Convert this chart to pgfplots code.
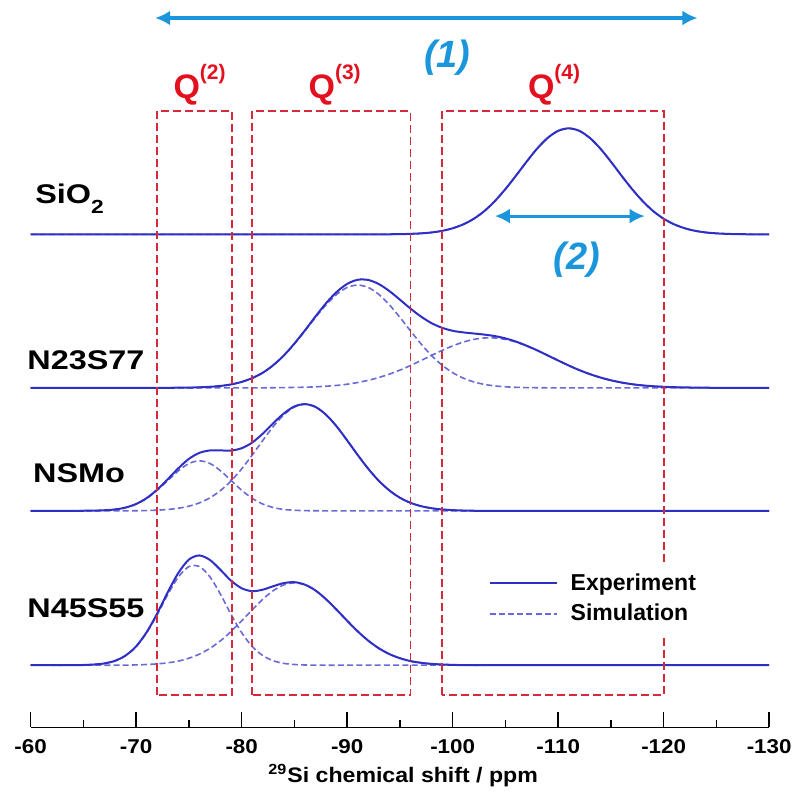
\documentclass[border=0pt]{standalone}
\usepackage{fontspec}
\setmainfont{Liberation Sans}
\usepackage{pgfplots}
\usepackage{pgfplotstable}
\pgfplotsset{compat=1.18}
\usetikzlibrary{arrows.meta}
\definecolor{expblue}{HTML}{2F2FC6}
\definecolor{simblue}{HTML}{6A6AD6}
\definecolor{boxred}{HTML}{D42A3C}
\definecolor{qred}{HTML}{E3101E}
\definecolor{arrowblue}{HTML}{1B96DC}
\tikzset{qbox/.style={boxred, line width=0.9pt, dash pattern=on 4pt off 2pt}}
\newcommand{\tl}[1]{\scalebox{1.12}[1]{#1}}
\newcommand{\sample}[1]{\scalebox{1.2}[1]{\fontsize{13.5}{14}\selectfont\bfseries #1}}

% 29Si spectra, heights above each baseline (s = SiO2, a = N23S77, b = NSMo, c = N45S55; e* = experiment)
\pgfplotstableread{
x s a1 a2 ea b1 b2 eb c1 c2 ec
-60 0 0 0 0 0 0 0 0 0 0
-61 0 0 0 0 0 0 0 0 0 0
-62 0 0 0 0 0 0 0 0 0 0
-63 0 0 0 0 0 0 0 0 0 0
-64 0 0 0 0 0 0 0 0.1 0 0.1
-65 0 0 0 0 0.1 0 0.1 0.2 0 0.2
-66 0 0 0 0 0.2 0 0.2 0.7 0 0.7
-67 0 0 0 0 0.6 0 0.6 1.8 0 1.8
-68 0 0 0 0 1.4 0 1.4 4.4 0 4.4
-69 0 0 0 0 3.3 0 3.3 9.6 0.1 9.7
-70 0 0 0 0 6.8 0.1 6.9 18.6 0.3 18.9
-71 0 0 0 0 12.5 0.3 12.8 32.5 0.7 33.2
-72 0 0 0 0 20.6 0.7 21.3 50.6 1.3 51.9
-73 0 0 0 0 30.3 1.4 31.7 70.7 2.4 73.1
-74 0 0.1 0 0.1 40.0 2.6 42.6 88.2 4.1 92.3
-75 0 0.2 0 0.2 47.3 4.7 52.0 98.6 7.0 105.6
-76 0 0.5 0 0.5 50.0 8.0 58.0 98.6 11.1 109.7
-77 0 1.0 0 1.0 47.3 13.1 60.4 88.2 16.9 105.1
-78 0 1.9 0 1.9 40.0 20.4 60.4 70.7 24.5 95.2
-79 0 3.4 0 3.4 30.3 30.0 60.3 50.6 33.8 84.4
-80 0 5.9 0 5.9 20.6 42.0 62.6 32.5 44.4 76.9
-81 0 9.7 0 9.7 12.5 55.8 68.3 18.6 55.4 74.0
-82 0 15.1 0 15.1 6.8 70.4 77.2 9.6 65.9 75.5
-83 0 22.6 0.1 22.7 3.3 84.4 87.7 4.4 74.6 79.0
-84 0 32.2 0.2 32.4 1.4 96.0 97.4 1.8 80.3 82.1
-85 0 43.9 0.4 44.3 0.6 103.8 104.4 0.7 82.3 83.0
-86 0 56.9 0.6 57.5 0.2 106.5 106.7 0.2 80.3 80.5
-87 0 70.4 1.0 71.4 0.1 103.8 103.9 0.1 74.6 74.7
-88 0 83.0 1.6 84.6 0 96.0 96.0 0 65.9 65.9
-89 0 93.4 2.4 95.8 0 84.4 84.4 0 55.4 55.4
-90 0 100.3 3.6 103.9 0 70.4 70.4 0 44.4 44.4
-91 0 102.7 5.3 108.0 0 55.8 55.8 0 33.8 33.8
-92 0 100.3 7.5 107.8 0 42.0 42.0 0 24.5 24.5
-93 0 93.4 10.3 103.7 0 30.0 30.0 0 16.9 16.9
-94 0.1 83.0 13.7 96.7 0 20.4 20.4 0 11.1 11.1
-95 0.2 70.4 17.7 88.1 0 13.1 13.1 0 7.0 7.0
-96 0.5 56.9 22.3 79.2 0 8.0 8.0 0 4.1 4.1
-97 1.0 43.9 27.3 71.2 0 4.7 4.7 0 2.4 2.4
-98 1.9 32.2 32.4 64.6 0 2.6 2.6 0 1.3 1.3
-99 3.5 22.6 37.4 60.0 0 1.4 1.4 0 0.7 0.7
-100 6.1 15.1 41.9 57.0 0 0.7 0.7 0 0.3 0.3
-101 10.0 9.7 45.7 55.4 0 0.3 0.3 0 0.1 0.1
-102 15.6 5.9 48.4 54.3 0 0.1 0.1 0 0 0
-103 23.3 3.4 49.8 53.2 0 0 0 0 0 0
-104 33.3 1.9 49.8 51.7 0 0 0 0 0 0
-105 45.3 1.0 48.4 49.4 0 0 0 0 0 0
-106 58.7 0.5 45.7 46.2 0 0 0 0 0 0
-107 72.6 0.2 41.9 42.1 0 0 0 0 0 0
-108 85.7 0.1 37.4 37.5 0 0 0 0 0 0
-109 96.4 0 32.4 32.4 0 0 0 0 0 0
-110 103.5 0 27.3 27.3 0 0 0 0 0 0
-111 106.0 0 22.3 22.3 0 0 0 0 0 0
-112 103.5 0 17.7 17.7 0 0 0 0 0 0
-113 96.4 0 13.7 13.7 0 0 0 0 0 0
-114 85.7 0 10.3 10.3 0 0 0 0 0 0
-115 72.6 0 7.5 7.5 0 0 0 0 0 0
-116 58.7 0 5.3 5.3 0 0 0 0 0 0
-117 45.3 0 3.6 3.6 0 0 0 0 0 0
-118 33.3 0 2.4 2.4 0 0 0 0 0 0
-119 23.3 0 1.6 1.6 0 0 0 0 0 0
-120 15.6 0 1.0 1.0 0 0 0 0 0 0
-121 10.0 0 0.6 0.6 0 0 0 0 0 0
-122 6.1 0 0.4 0.4 0 0 0 0 0 0
-123 3.5 0 0.2 0.2 0 0 0 0 0 0
-124 1.9 0 0.1 0.1 0 0 0 0 0 0
-125 1.0 0 0 0 0 0 0 0 0 0
-126 0.5 0 0 0 0 0 0 0 0 0
-127 0.2 0 0 0 0 0 0 0 0 0
-128 0.1 0 0 0 0 0 0 0 0 0
-129 0 0 0 0 0 0 0 0 0 0
-130 0 0 0 0 0 0 0 0 0 0
}\spectra

\begin{document}
\begin{tikzpicture}
\begin{axis}[
    scale only axis,
    width=369.15pt, height=363.5pt,
    x dir=reverse,
    xmin=-130, xmax=-60,
    ymin=0, ymax=727,
    enlargelimits=false,
    clip=false,
    axis x line*=bottom,
    axis y line=none,
    axis line style={black, line width=0.7pt},
    xtick={-130,-120,-110,-100,-90,-80,-70,-60},
    xticklabels={\tl{-130},\tl{-120},\tl{-110},\tl{-100},\tl{-90},\tl{-80},\tl{-70},\tl{-60}},
    minor xtick={-125,-115,-105,-95,-85,-75,-65},
    tick align=inside,
    major tick length=7.5pt,
    minor tick length=3.7pt,
    tick style={black, line width=0.7pt},
    xticklabel style={font=\fontsize{10}{12}\selectfont\bfseries, yshift=-2.5pt},
    exp/.style={expblue, line width=1pt, smooth},
    sim/.style={simblue, line width=0.8pt, dash pattern=on 3pt off 1.6pt, smooth},
    legend style={at={(axis cs:-102.8,164)}, anchor=north west, draw=none, fill=white,
        font=\fontsize{11.5}{13}\selectfont\bfseries, row sep=1.5pt, inner sep=3pt},
    legend cell align=left,
    legend image code/.code={\draw[#1] (0pt,0pt) -- (33.5pt,0pt); \path (38pt,0pt);},
]
\addlegendimage{expblue, line width=1pt}
\addlegendentry{Experiment}
\addlegendimage{simblue, line width=0.9pt, dash pattern=on 3pt off 1.6pt}
\addlegendentry{Simulation}

% SiO2
\addplot[sim, forget plot] table[x=x, y expr=\thisrow{s}+492.7] {\spectra};
\addplot[exp, forget plot] table[x=x, y expr=\thisrow{s}+492.7] {\spectra};
% N23S77
\addplot[sim, forget plot] table[x=x, y expr=\thisrow{a1}+339.3] {\spectra};
\addplot[sim, forget plot] table[x=x, y expr=\thisrow{a2}+339.3] {\spectra};
\addplot[exp, forget plot] table[x=x, y expr=\thisrow{ea}+339.3] {\spectra};
% NSMo
\addplot[sim, forget plot] table[x=x, y expr=\thisrow{b1}+216.3] {\spectra};
\addplot[sim, forget plot] table[x=x, y expr=\thisrow{b2}+216.3] {\spectra};
\addplot[exp, forget plot] table[x=x, y expr=\thisrow{eb}+216.3] {\spectra};
% N45S55
\addplot[sim, forget plot] table[x=x, y expr=\thisrow{c1}+62] {\spectra};
\addplot[sim, forget plot] table[x=x, y expr=\thisrow{c2}+62] {\spectra};
\addplot[exp, forget plot] table[x=x, y expr=\thisrow{ec}+62] {\spectra};

% Q regions
\draw[qbox] (axis cs:-72,32) rectangle (axis cs:-79.1,616);
\draw[qbox] (axis cs:-81,32) rectangle (axis cs:-96,616);
\draw[qbox] (axis cs:-99,32) rectangle (axis cs:-120,616);

\node[qred, anchor=base west, inner sep=0pt] at (axis cs:-73.5,629) {\bfseries\fontsize{17}{17}\selectfont Q\raisebox{9.5pt}{\fontsize{10.5}{10.5}\selectfont(2)}};
\node[qred, anchor=base west, inner sep=0pt] at (axis cs:-86.3,629) {\bfseries\fontsize{17}{17}\selectfont Q\raisebox{9.5pt}{\fontsize{10.5}{10.5}\selectfont(3)}};
\node[qred, anchor=base west, inner sep=0pt] at (axis cs:-107.1,629) {\bfseries\fontsize{17}{17}\selectfont Q\raisebox{9.5pt}{\fontsize{10.5}{10.5}\selectfont(4)}};

% arrows
\draw[arrowblue, line width=1.5pt, {Latex[length=7.5pt,width=7.5pt]}-{Latex[length=7.5pt,width=7.5pt]}] (axis cs:-71.8,709) -- (axis cs:-123.2,709);
\draw[arrowblue, line width=1.5pt, {Latex[length=7.5pt,width=7.5pt]}-{Latex[length=7.5pt,width=7.5pt]}] (axis cs:-104.0,511) -- (axis cs:-118.2,511);
\node[arrowblue, font=\fontsize{19}{19}\selectfont\bfseries\itshape] at (axis cs:-99.5,669) {(1)};
\node[arrowblue, font=\fontsize{19}{19}\selectfont\bfseries\itshape] at (axis cs:-111.8,467) {(2)};

% sample names
\node[anchor=base west, inner sep=0pt] at (axis cs:-60.4,524) {\sample{SiO\raisebox{-5pt}{\fontsize{9.5}{9.5}\selectfont 2}}};
\node[anchor=base west, inner sep=0pt] at (axis cs:-59.65,358) {\sample{N23S77}};
\node[anchor=base west, inner sep=0pt] at (axis cs:-60.2,244.3) {\sample{NSMo}};
\node[anchor=base west, inner sep=0pt] at (axis cs:-59.65,109.7) {\sample{N45S55}};

% x label
\node[font=\fontsize{10.5}{12}\selectfont\bfseries] at (axis cs:-95.3,-48.5) {\scalebox{1.1}[1]{\textsuperscript{29}Si chemical shift / ppm}};

\coordinate (bbA) at (axis cs:-57.09,-66);
\coordinate (bbB) at (axis cs:-132.35,727);
\end{axis}
\pgfresetboundingbox
\path (bbA) rectangle (bbB);
\end{tikzpicture}
\end{document}
